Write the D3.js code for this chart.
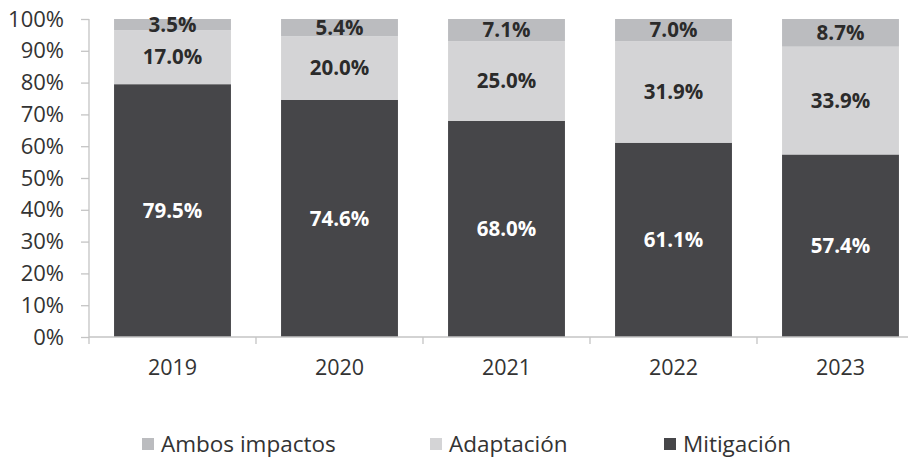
<!DOCTYPE html>
<html><head><meta charset="utf-8">
<script src="https://cdn.jsdelivr.net/npm/d3@7"></script>
<style>body{margin:0;background:#fff}svg{display:block}</style>
</head><body><svg id="c" width="908" height="459"></svg>
<script>
const years = ["2019","2020","2021","2022","2023"];
const mitigacion = [79.5,74.6,68.0,61.1,57.4];
const adaptacion = [17.0,20.0,25.0,31.9,33.9];
const ambos = [3.5,5.4,7.1,7.0,8.7];
const yTicks = [0,10,20,30,40,50,60,70,80,90,100];
const seriesNames = ["Mitigación","Adaptación","Ambos impactos"];
const seriesColors = ["#464649","#d4d4d6","#bbbcbf"];
const labelColors = ["#ffffff","#2b2b2b","#2b2b2b"];
const legendOrder = ["Ambos impactos","Adaptación","Mitigación"];

const svg = d3.select("#c");
const font = "'Open Sans', sans-serif";
const x = d3.scaleBand().domain(years).range([89, 924]).paddingInner(0.3).paddingOuter(0.15);
const y = d3.scaleLinear().domain([0,100]).range([337, 19]);

const rows = years.map((yr,i)=>({year:yr, "Mitigación":mitigacion[i], "Adaptación":adaptacion[i], "Ambos impactos":ambos[i]}));
const stacked = d3.stack().keys(seriesNames)(rows);

stacked.forEach((s,si)=>{
  const g = svg.append("g");
  g.selectAll("rect").data(s).join("rect")
    .attr("x", d=>x(d.data.year)).attr("width", x.bandwidth())
    .attr("y", d=>y(Math.min(100,d[1]))).attr("height", d=>y(d[0])-y(Math.min(100,d[1])))
    .attr("fill", seriesColors[si]);
  g.selectAll("text").data(s).join("text")
    .attr("x", d=>x(d.data.year)+x.bandwidth()/2)
    .attr("y", d=>(y(d[0])+y(Math.min(100,d[1])))/2)
    .attr("dy","0.35em").attr("text-anchor","middle")
    .attr("font-family",font).attr("font-weight","bold").attr("font-size",20.5)
    .attr("fill", labelColors[si])
    .text(d=>(d[1]-d[0]).toFixed(1)+"%");
});

// y axis
const ya = svg.append("g").attr("transform","translate(89,0)")
  .call(d3.axisLeft(y).tickValues(yTicks).tickFormat(d=>d+"%").tickSize(8).tickPadding(17));
ya.select(".domain").attr("stroke","#c4c4c4").attr("stroke-width",1.3).attr("d","M-0,19V337");
ya.selectAll(".tick line").attr("stroke","#c4c4c4").attr("stroke-width",1.3);
ya.selectAll(".tick text").attr("font-family",font).attr("font-size",22).attr("fill","#333");

// x axis
const xa = svg.append("g").attr("transform","translate(0,337)")
  .call(d3.axisBottom(x).tickSize(0).tickPadding(23));
xa.select(".domain").attr("stroke","#c4c4c4").attr("stroke-width",1.3).attr("d","M89,0H924");
xa.selectAll(".tick text").attr("font-family",font).attr("font-size",21.5).attr("fill","#333");
const step = x.step();
const bounds = d3.range(years.length+1).map(i=>89+i*step);
xa.selectAll("line.sep").data(bounds).join("line").attr("class","sep")
  .attr("x1",d=>d).attr("x2",d=>d).attr("y1",0).attr("y2",7)
  .attr("stroke","#c4c4c4").attr("stroke-width",1.3);

// legend
const legX = [142,430,664];
const lg = svg.append("g");
legendOrder.forEach((name,i)=>{
  const c = seriesColors[seriesNames.indexOf(name)];
  lg.append("rect").attr("x",legX[i]).attr("y",438).attr("width",12).attr("height",12).attr("fill",c);
  lg.append("text").attr("x",legX[i]+19).attr("y",444).attr("dy","0.35em")
    .attr("font-family",font).attr("font-size",22.5).attr("fill","#333").text(name);
});
</script></body></html>
